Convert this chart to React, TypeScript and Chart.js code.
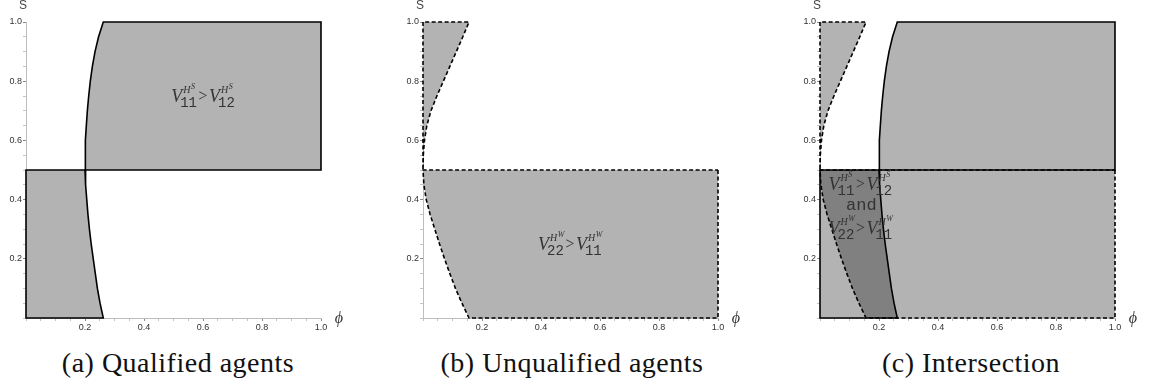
import React, { useEffect, useRef } from "react";
import { Chart, registerables } from "chart.js";

Chart.register(...registerables);

// S levels at which the two indifference boundaries are sampled
const sLevels = [0, 0.05, 0.1, 0.15, 0.2, 0.25, 0.3, 0.35, 0.4, 0.45, 0.5, 0.55, 0.6, 0.65, 0.7, 0.75, 0.8, 0.85, 0.9, 0.95, 1.0];
// phi on the boundary V11^{H^S} = V12^{H^S} (qualified agents)
const qualifiedPhi = [0.262, 0.251, 0.242, 0.235, 0.228, 0.221, 0.215, 0.21, 0.206, 0.202, 0.2, 0.2005, 0.202, 0.2045, 0.208, 0.2125, 0.218, 0.225, 0.234, 0.246, 0.262];
// phi on the boundary V22^{H^W} = V11^{H^W} (unqualified agents)
const unqualifiedPhi = [0.156, 0.132, 0.11, 0.091, 0.073, 0.056, 0.04, 0.024, 0.011, 0.003, 0, 0.001, 0.005, 0.013, 0.027, 0.047, 0.069, 0.091, 0.113, 0.135, 0.156];
// labelled ticks on both axes
const tickValues = [0.2, 0.4, 0.6, 0.8, 1.0];
const captions = ["(a) Qualified agents", "(b) Unqualified agents", "(c) Intersection"];

const REGION = "#b3b3b3";
const OVERLAP = "#808080";
const INK = "#000000";
const TEXT = "#333333";

type P = { x: number; y: number };

const along = (phi: number[], lo: number, hi: number, down = false): P[] => {
  const pts: P[] = [];
  sLevels.forEach((s, i) => {
    if (s >= lo - 1e-9 && s <= hi + 1e-9) pts.push({ x: phi[i], y: s });
  });
  return down ? pts.reverse() : pts;
};

// regions in the (phi, S) plane
const qualifiedUpper: P[] = [...along(qualifiedPhi, 0.5, 1), { x: 1, y: 1 }, { x: 1, y: 0.5 }];
const qualifiedLower: P[] = [{ x: 0, y: 0 }, { x: 0, y: 0.5 }, ...along(qualifiedPhi, 0, 0.5, true)];
const unqualifiedUpper: P[] = [{ x: 0, y: 1 }, { x: 0, y: 0.5 }, ...along(unqualifiedPhi, 0.5, 1)];
const unqualifiedLower: P[] = [{ x: 1, y: 0.5 }, { x: 1, y: 0 }, ...along(unqualifiedPhi, 0, 0.5)];
const bothHold: P[] = [...along(unqualifiedPhi, 0, 0.5), ...along(qualifiedPhi, 0, 0.5, true)];

const fillSet = (pts: P[], color: string) => ({
  data: pts.map((p) => ({ ...p })),
  showLine: true,
  fill: "shape",
  backgroundColor: color,
  borderColor: "transparent",
  borderWidth: 0,
  pointRadius: 0,
  clip: false,
});

const outlineSet = (pts: P[], dashed: boolean) => ({
  data: [...pts, pts[0]].map((p) => ({ ...p })),
  showLine: true,
  fill: false,
  borderColor: INK,
  borderWidth: 1.6,
  borderDash: dashed ? [4, 2.5] : [],
  borderJoinStyle: "miter",
  borderCapStyle: dashed ? "butt" : "square",
  pointRadius: 0,
  clip: false,
});

// Chart.js paints the lowest `order` last, so layer the list bottom-to-top
const layered = (sets: any[]) => sets.map((d, i) => ({ ...d, order: sets.length - i }));

const isMajor = (v: number) => {
  const k = Math.round(v * 5);
  return Math.abs(v * 5 - k) < 1e-6 && k > 0;
};

function drawRelation(ctx: CanvasRenderingContext2D, cx: number, cy: number, left: string, right: string, sup: string) {
  const fV = 'italic 18px "Liberation Serif"';
  const fSub = '14px "Liberation Mono"';
  const fH = 'italic 10px "Liberation Serif"';
  const fS = 'italic 8px "Liberation Serif"';
  const fOp = '16px "Liberation Serif"';
  const w = (f: string, t: string) => {
    ctx.font = f;
    return ctx.measureText(t).width;
  };
  const vW = w(fV, "V");
  const hW = w(fH, "H");
  const sW = w(fS, sup);
  const sub1 = w(fSub, left);
  const sub2 = w(fSub, right);
  const term = (sw: number) => vW - 2 + Math.max(sw, hW + sW + 3);
  const opW = w(fOp, ">") + 3;
  const total = term(sub1) + opW + term(sub2);
  let x = cx - total / 2;
  ctx.fillStyle = TEXT;
  ctx.textAlign = "left";
  ctx.textBaseline = "alphabetic";
  const drawTerm = (sub: string, sw: number) => {
    ctx.font = fV;
    ctx.fillText("V", x, cy + 6);
    ctx.font = fH;
    ctx.fillText("H", x + vW + 1, cy - 3);
    ctx.font = fS;
    ctx.fillText(sup, x + vW + hW + 1.5, cy - 7);
    ctx.font = fSub;
    ctx.fillText(sub, x + vW - 2, cy + 11);
    x += term(sw);
  };
  drawTerm(left, sub1);
  ctx.font = fOp;
  ctx.fillText(">", x + 1.5, cy + 5);
  x += opW;
  drawTerm(right, sub2);
}

type Note = (ctx: CanvasRenderingContext2D, px: (v: number) => number, py: (v: number) => number) => void;

const panelNotes: Note[] = [
  (ctx, px, py) => drawRelation(ctx, px(0.6), py(0.75), "11", "12", "S"),
  (ctx, px, py) => drawRelation(ctx, px(0.498), py(0.25), "22", "11", "W"),
  (ctx, px, py) => {
    drawRelation(ctx, px(0.137), py(0.453), "11", "12", "S");
    ctx.font = '17px "Liberation Mono"';
    ctx.fillStyle = TEXT;
    ctx.textAlign = "center";
    ctx.textBaseline = "alphabetic";
    ctx.fillText("and", px(0.14), py(0.365));
    drawRelation(ctx, px(0.137), py(0.304), "22", "11", "W");
  },
];

const panelData = [
  layered([fillSet(qualifiedUpper, REGION), fillSet(qualifiedLower, REGION), outlineSet(qualifiedUpper, false), outlineSet(qualifiedLower, false)]),
  layered([fillSet(unqualifiedUpper, REGION), fillSet(unqualifiedLower, REGION), outlineSet(unqualifiedUpper, true), outlineSet(unqualifiedLower, true)]),
  layered([
    fillSet(qualifiedUpper, REGION),
    fillSet(qualifiedLower, REGION),
    fillSet(unqualifiedUpper, REGION),
    fillSet(unqualifiedLower, REGION),
    fillSet(bothHold, OVERLAP),
    outlineSet(unqualifiedUpper, true),
    outlineSet(unqualifiedLower, true),
    outlineSet(qualifiedUpper, false),
    outlineSet(qualifiedLower, false),
  ]),
];

const PANEL_LEFT = [0, 397, 794];
const CAPTION_CENTER = [178, 572, 971];
const CANVAS_W = 360;
const CANVAS_H = 335;

const axis = (fit: (s: any) => void) => ({
  type: "linear",
  min: 0,
  max: 1,
  afterFit: fit,
  border: { color: "#bdbdbd", width: 1 },
  grid: {
    drawOnChartArea: false,
    tickLength: 3,
    color: (c: any) => (c.tick && isMajor(c.tick.value) ? "#8a8a8a" : "#c4c4c4"),
  },
  ticks: {
    stepSize: 0.05,
    maxTicksLimit: 40,
    autoSkip: false,
    maxRotation: 0,
    padding: 1,
    color: TEXT,
    font: { family: '"Liberation Sans", Arial, sans-serif', size: 9 },
    callback: (v: any) => {
      const n = Number(v);
      const hit = tickValues.find((t) => Math.abs(t - n) < 1e-6);
      return hit !== undefined ? hit.toFixed(1) : "";
    },
  },
});

function Panel({ index }: { index: number }) {
  const ref = useRef<HTMLCanvasElement | null>(null);
  useEffect(() => {
    if (!ref.current) return;
    const notes = panelNotes[index];
    const chart = new Chart(ref.current, {
      type: "scatter",
      data: { datasets: panelData[index] as any },
      options: {
        animation: false,
        responsive: false,
        maintainAspectRatio: false,
        events: [],
        layout: { padding: { top: 22, right: 39, bottom: 0, left: 0 } },
        plugins: { legend: { display: false }, tooltip: { enabled: false } },
        scales: {
          x: axis((s: any) => {
            s.height = 17;
          }) as any,
          y: axis((s: any) => {
            s.width = 26;
          }) as any,
        },
      },
      plugins: [
        {
          id: "panelText",
          afterDatasetsDraw(c: any) {
            const ctx = c.ctx as CanvasRenderingContext2D;
            const xs = c.scales.x;
            const ys = c.scales.y;
            const px = (v: number) => xs.getPixelForValue(v);
            const py = (v: number) => ys.getPixelForValue(v);
            ctx.save();
            notes(ctx, px, py);
            // axis names
            ctx.fillStyle = "#444";
            ctx.textAlign = "center";
            ctx.textBaseline = "alphabetic";
            ctx.font = '12px "Liberation Sans", Arial, sans-serif';
            ctx.fillText("S", px(0) - 3, py(1) - 13);
            ctx.fillStyle = TEXT;
            ctx.font = 'italic 16px "Liberation Serif", serif';
            ctx.textBaseline = "middle";
            ctx.fillText("ϕ", px(1) + 18, py(0) + 1);
            ctx.restore();
          },
        },
      ],
    });
    return () => chart.destroy();
  }, [index]);
  return (
    <canvas
      ref={ref}
      width={CANVAS_W}
      height={CANVAS_H}
      style={{ position: "absolute", left: PANEL_LEFT[index], top: 0, width: CANVAS_W, height: CANVAS_H }}
    />
  );
}

export default function App() {
  return (
    <div style={{ position: "absolute", left: 0, top: 0, width: 1151, height: 385, background: "#fff", overflow: "hidden" }}>
      {[0, 1, 2].map((i) => (
        <Panel key={i} index={i} />
      ))}
      {captions.map((t, i) => (
        <div
          key={t}
          style={{
            position: "absolute",
            left: CAPTION_CENTER[i] - 200,
            width: 400,
            top: 349,
            textAlign: "center",
            font: '28px "Liberation Serif", serif',
            lineHeight: "28px",
            letterSpacing: "0.5px",
            color: "#111",
            whiteSpace: "nowrap",
          }}
        >
          {t}
        </div>
      ))}
    </div>
  );
}
